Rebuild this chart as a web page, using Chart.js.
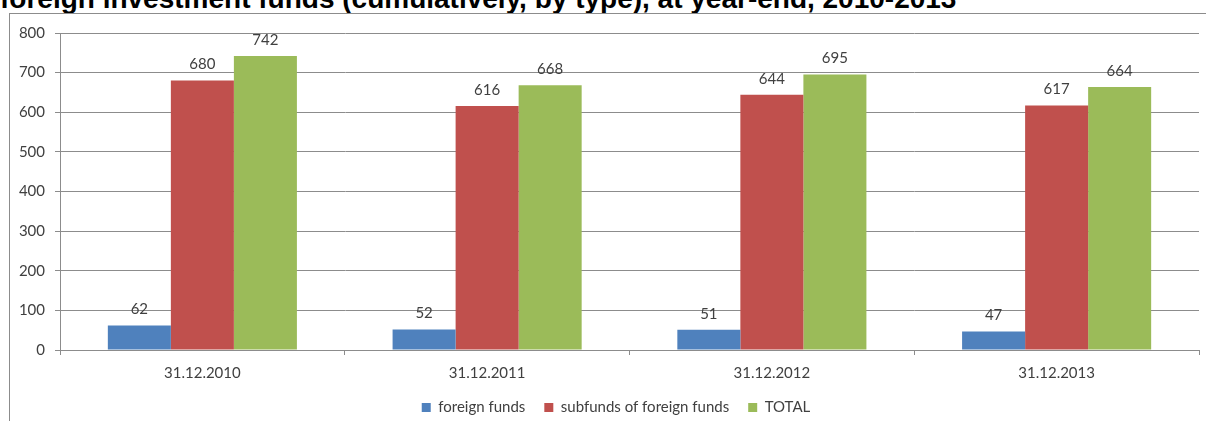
<!DOCTYPE html>
<html>
<head>
<meta charset="utf-8">
<script src="https://cdn.jsdelivr.net/npm/chart.js@4/dist/chart.umd.min.js"></script>
<style>
  html, body { margin: 0; padding: 0; width: 1206px; height: 421px; overflow: hidden; background: #fff; }
  #title { position: absolute; left: 0px; top: -15px; font-family: "Liberation Sans", Arial, sans-serif; font-weight: bold; font-size: 28px; line-height: 28px; color: #000; white-space: nowrap; }
  #frame { position: absolute; left: 9px; top: 13px; width: 1250px; height: 440px; border-left: 1px solid #8c8c8c; border-top: 1px solid #8c8c8c; }
  #c { position: absolute; left: 10px; top: 14px; }
</style>
</head>
<body>
<div id="title">foreign investment funds (cumulatively, by type), at year-end, 2010-2013</div>
<div id="frame"></div>
<canvas id="c" width="1212" height="411"></canvas>
<script>
const categories = ["31.12.2010", "31.12.2011", "31.12.2012", "31.12.2013"];
const foreignFunds = [62, 52, 51, 47];
const subfunds = [680, 616, 644, 617];
const total = [742, 668, 695, 664];
const seriesNames = ["foreign funds", "subfunds of foreign funds", "TOTAL"];
const yTicks = [0, 100, 200, 300, 400, 500, 600, 700, 800];

const FONT = "Lato";
const GRID = "#8c8c8c";
const TXT = "#404040";

const valueLabels = {
  id: "valueLabels",
  afterDatasetsDraw(chart) {
    const ctx = chart.ctx;
    ctx.save();
    ctx.font = "15px " + FONT;
    ctx.fillStyle = TXT;
    ctx.textAlign = "center";
    ctx.textBaseline = "middle";
    chart.data.datasets.forEach((ds, i) => {
      const meta = chart.getDatasetMeta(i);
      meta.data.forEach((bar, j) => {
        ctx.fillText(String(ds.data[j]), bar.x, bar.y - 16);
      });
    });
    ctx.restore();
  }
};

new Chart(document.getElementById("c"), {
  type: "bar",
  data: {
    labels: categories,
    datasets: [
      { label: seriesNames[0], data: foreignFunds, backgroundColor: "#4F81BD" },
      { label: seriesNames[1], data: subfunds, backgroundColor: "#C0504D" },
      { label: seriesNames[2], data: total, backgroundColor: "#9BBB59" }
    ]
  },
  options: {
    responsive: false,
    animation: false,
    devicePixelRatio: 1,
    layout: { padding: { top: 17, left: 0, right: 0, bottom: 0 } },
    datasets: { bar: { categoryPercentage: 0.664, barPercentage: 1.0, borderWidth: 0 } },
    plugins: {
      title: { display: false },
      tooltip: { enabled: false },
      legend: {
        position: "bottom",
        labels: {
          boxWidth: 9, boxHeight: 9, padding: 19,
          color: TXT,
          font: { family: FONT, size: 15 }
        }
      }
    },
    scales: {
      x: {
        offset: true,
        grid: { display: true, drawOnChartArea: false, offset: true, drawTicks: true, tickLength: 5, color: GRID },
        border: { display: true, color: GRID },
        ticks: { color: TXT, font: { family: FONT, size: 15, lineHeight: 1 }, padding: 11, maxRotation: 0 },
        afterFit(scale) { scale.height = 31; }
      },
      y: {
        min: 0, max: 800,
        afterBuildTicks(scale) { scale.ticks = yTicks.map(v => ({ value: v })); },
        grid: { color: GRID, drawTicks: true, tickLength: 5 },
        border: { display: true, color: GRID },
        ticks: { color: TXT, font: { family: FONT, size: 15 }, padding: 10 },
        afterFit(scale) { scale.width = 50; }
      },
      spacer: {
        type: "linear",
        position: "right",
        display: true,
        grid: { display: false, drawTicks: false },
        border: { display: false },
        ticks: { display: false },
        afterFit(scale) { scale.width = 23; }
      }
    }
  },
  plugins: [valueLabels]
});
</script>
</body>
</html>
